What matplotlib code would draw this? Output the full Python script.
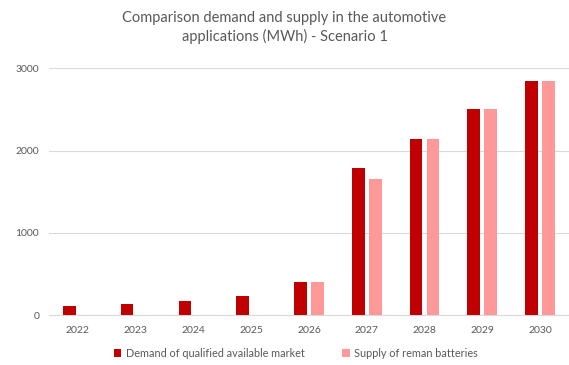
import numpy as np
import matplotlib.pyplot as plt

years = ['2022', '2023', '2024', '2025', '2026', '2027', '2028', '2029', '2030']
demand = [110, 135, 170, 240, 400, 1790, 2140, 2500, 2850]
supply = [0, 0, 0, 0, 400, 1650, 2140, 2500, 2850]

plt.rcParams['font.family'] = ['Lato', 'DejaVu Sans']

fig = plt.figure(figsize=(5.69, 3.65), dpi=100)
ax = fig.add_axes([0.086, 0.136, 0.914, 0.677])

x = np.arange(len(years))
w = 0.22
ax.bar(x - 0.147, demand, w, color='#C00000', label='Demand of qualified available market', zorder=3)
ax.bar(x + 0.147, supply, w, color='#FF9999', label='Supply of reman batteries', zorder=3)

ax.set_xlim(-0.5, len(years) - 0.5)
ax.set_ylim(0, 3000)
ax.set_yticks([0, 1000, 2000, 3000])
ax.set_xticks(x)
ax.set_xticklabels(years)
ax.grid(axis='y', color='#d9d9d9', lw=0.8, zorder=0)
for s in ['top', 'right', 'left']:
    ax.spines[s].set_visible(False)
ax.spines['bottom'].set_color('#d9d9d9')
ax.tick_params(length=0, colors='#595959', labelsize=7.5)
ax.tick_params(axis='x', pad=8)
ax.tick_params(axis='y', pad=7)

fig.suptitle('Comparison demand and supply in the automotive\napplications (MWh) - Scenario 1',
             y=0.97, fontsize=10.5, color='#595959', linespacing=1.3)

fig.legend(loc='lower center', bbox_to_anchor=(0.52, -0.01), ncol=2, frameon=False,
           fontsize=7.8, labelcolor='#595959', handlelength=0.7, handleheight=0.7,
           handletextpad=0.4, columnspacing=3.5)

plt.savefig('out.png', dpi=100)
